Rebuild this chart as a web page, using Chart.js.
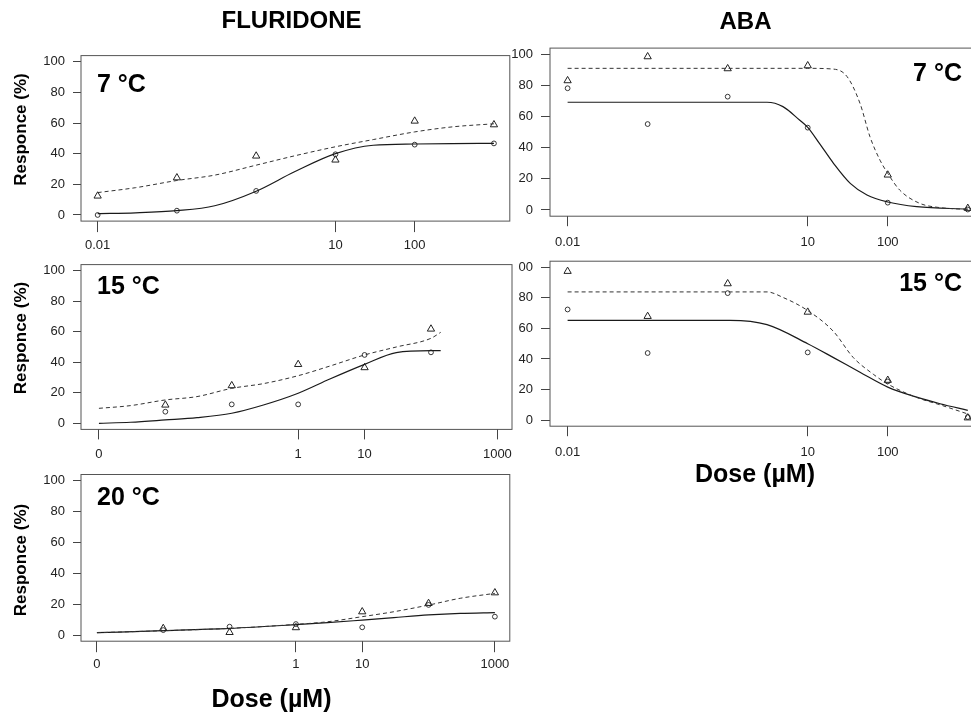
<!DOCTYPE html>
<html>
<head>
<meta charset="utf-8">
<script src="https://cdn.jsdelivr.net/npm/chart.js@4.4.0/dist/chart.umd.min.js"></script>
<style>
    body { margin: 0; background: #fff; }
    #page { position: relative; width: 971px; height: 713px; overflow: hidden; background: #fff; }
    #page canvas { position: absolute; }
</style>
</head>
<body>
<div id="page">
    <canvas id="aba7"></canvas>
    <canvas id="aba15"></canvas>
    <canvas id="flu7"></canvas>
    <canvas id="flu15"></canvas>
    <canvas id="flu20"></canvas>
</div>
<script>
// Doses (µM); "0" is drawn at 0.001 on the log axis
const DOSES = [0.01, 0.1, 1, 10, 100, 1000];
const DOSES_F15 = [0.01, 0.1, 1, 10, 100];

const Y_TICKS = [0, 20, 40, 60, 80, 100];
const X_TICKS_A = [0.01, 10, 100];
const X_LABELS_A = ['0.01', '10', '100'];
const X_TICKS_B = [0.001, 1, 10, 1000];
const X_LABELS_B = ['0', '1', '10', '1000'];

// Fluridone 7 °C
const F7_TRI = [12.4, 24.3, 38.5, 35.9, 61.3, 58.9];
const F7_CIRC = [0, 2.8, 15.7, 39.6, 45.9, 46.7];
const F7_FIT_X = [0.01, 0.03, 0.1, 0.3, 1, 3, 10, 30, 100, 300, 1000];
const F7_FIT_TRI = [14.6, 17.8, 22.5, 26, 32.5, 38.5, 44.5, 49.2, 54.2, 57.5, 59.5];
const F7_FIT_CIRC = [0.9, 1.4, 2.8, 6, 15.5, 28, 40, 45.5, 46.3, 46.6, 46.7];

// Fluridone 15 °C
const F15_TRI = [12, 24.7, 38.6, 36.5, 61.8];
const F15_CIRC = [7.6, 12.4, 12.4, 44.8, 46.5];
const F15_FIT_X = [0.001, 0.003, 0.01, 0.03, 0.1, 0.3, 1, 3, 10, 30, 100, 140];
const F15_FIT_TRI = [9.8, 11.6, 15.3, 17.5, 22.9, 26, 31.2, 37.5, 44.8, 50, 55.7, 59.6];
const F15_FIT_CIRC = [0, 0.7, 2.2, 3.7, 6.6, 12, 19.7, 29, 38.6, 46.3, 47.6, 47.6];

// Fluridone 20 °C
const F20_TRI = [4.3, 1.7, 4.8, 15.1, 20.5, 27.4];
const F20_CIRC = [3.2, 5.4, 7.1, 5, 19.5, 11.9];
const F20_FIT_X = [0.001, 0.01, 0.1, 1, 3, 10, 30, 100, 300, 1000];
const F20_FIT_TRI = [1.5, 2.8, 4.3, 6.9, 8.6, 11.9, 15.1, 19.4, 23.8, 27];
const F20_FIT_CIRC = [1.5, 2.8, 4.3, 6.7, 8, 9.7, 11.3, 13, 14, 14.5];

// ABA 7 °C
const A7_TRI = [83.1, 98.5, 90.8, 92.7, 22.5, 1.1];
const A7_CIRC = [78.2, 55.2, 72.8, 52.9, 4.7, 0.3];
const A7_FIT_TRI_X = [0.01, 1, 10, 21, 31, 45, 60, 80, 100, 141, 250, 450, 1000];
const A7_FIT_TRI = [91, 91, 91, 90.5, 85.7, 68.5, 47, 32, 23.5, 12.8, 4.3, 1.5, 0.4];
const A7_FIT_CIRC_X = [0.01, 1, 3.1, 4.9, 7.9, 10, 14, 21, 34, 55, 100, 230, 1000];
const A7_FIT_CIRC = [69.2, 69.2, 69.2, 66.4, 57.8, 53.1, 42.8, 30, 17.1, 9.6, 5.1, 2.1, 0.6];

// ABA 15 °C
const A15_TRI = [97.4, 67.9, 89.3, 70.7, 26.1, 1.5];
const A15_CIRC = [72.4, 43.9, 83.1, 44.3, 25.3, 2];
const A15_FIT_TRI_X = [0.01, 3.1, 4.9, 10, 21, 37, 66, 100, 230, 450, 1000];
const A15_FIT_TRI = [83.9, 83.9, 80.3, 71.7, 58, 41, 30, 23.6, 14.8, 10, 4];
const A15_FIT_CIRC_X = [0.01, 1.07, 3.1, 10, 21, 45, 100, 230, 450, 1000];
const A15_FIT_CIRC = [65.3, 65.3, 62.5, 50, 40.9, 31.3, 21.6, 15, 10.7, 6.4];

const FONT = '"Liberation Sans", Arial, sans-serif';

function zip(xs, ys) {
    return xs.map((x, i) => ({x: x, y: ys[i]}));
}

// optional white background, plot box and free text
const panelPlugin = {
    id: 'panel',
    beforeDraw(chart, args, opts) {
        if (!opts.bg) return;
        const ctx = chart.ctx;
        ctx.save();
        ctx.fillStyle = '#fff';
        ctx.fillRect(0, 0, chart.width, chart.height);
        ctx.restore();
    },
    afterDraw(chart, args, opts) {
        const ctx = chart.ctx;
        const a = chart.chartArea;
        ctx.save();
        ctx.strokeStyle = '#555';
        ctx.lineWidth = 1;
        ctx.strokeRect(a.left, a.top, a.right - a.left, a.bottom - a.top);
        (opts.texts || []).forEach(t => {
            ctx.save();
            ctx.fillStyle = '#000';
            ctx.font = t.font;
            ctx.textAlign = t.align || 'left';
            ctx.textBaseline = t.baseline || 'alphabetic';
            ctx.translate(t.x - opts.ox, t.y - opts.oy);
            if (t.rotate) ctx.rotate(t.rotate);
            ctx.fillText(t.text, 0, 0);
            ctx.restore();
        });
        ctx.restore();
    }
};

function makePanel(id, cfg) {
    const canvas = document.getElementById(id);
    const pos = cfg.canvas;
    const box = cfg.box;
    canvas.width = pos.w;
    canvas.height = pos.h;
    canvas.style.left = pos.x + 'px';
    canvas.style.top = pos.y + 'px';

    const yWidth = box.l - pos.x;
    const xHeight = pos.y + pos.h - box.b;

    const texts = cfg.texts.slice();
    if (cfg.label) texts.push(cfg.label);
    if (cfg.yTitle) {
        texts.push({text: 'Responce (%)', x: 21, y: cfg.yTitle, font: 'bold 17px ' + FONT,
            align: 'center', baseline: 'middle', rotate: -Math.PI / 2});
    }

    new Chart(canvas, {
        type: 'scatter',
        data: {
            datasets: [
                {
                    data: zip(cfg.fitTriX, cfg.fitTri),
                    showLine: true,
                    borderColor: '#333',
                    borderWidth: 1,
                    borderDash: [4, 3],
                    pointRadius: 0,
                    cubicInterpolationMode: 'monotone'
                },
                {
                    data: zip(cfg.fitCircX, cfg.fitCirc),
                    showLine: true,
                    borderColor: '#1a1a1a',
                    borderWidth: 1.2,
                    pointRadius: 0,
                    cubicInterpolationMode: 'monotone'
                },
                {
                    data: zip(cfg.doses, cfg.tri),
                    pointStyle: 'triangle',
                    pointRadius: 4.2,
                    borderColor: '#222',
                    borderWidth: 1,
                    backgroundColor: 'transparent'
                },
                {
                    data: zip(cfg.doses, cfg.circ),
                    pointStyle: 'circle',
                    pointRadius: 2.4,
                    borderColor: '#222',
                    borderWidth: 0.9,
                    backgroundColor: 'transparent'
                }
            ]
        },
        options: {
            responsive: false,
            animation: false,
            devicePixelRatio: 1,
            layout: {
                padding: {left: 0, top: box.t - pos.y, right: pos.x + pos.w - box.r, bottom: 0}
            },
            scales: {
                x: {
                    type: 'logarithmic',
                    min: Math.pow(10, cfg.xExp[0]),
                    max: Math.pow(10, cfg.xExp[1]),
                    border: {display: false},
                    grid: {drawOnChartArea: false, tickLength: cfg.xTickLen, tickColor: '#444'},
                    ticks: {
                        autoSkip: false,
                        maxRotation: 0,
                        padding: cfg.xPad,
                        color: '#222',
                        font: {family: FONT, size: 13},
                        callback: (v) => {
                            const i = cfg.xTicks.indexOf(v);
                            return i >= 0 ? cfg.xLabels[i] : '';
                        }
                    },
                    afterBuildTicks: (s) => { s.ticks = cfg.xTicks.map(v => ({value: v})); },
                    afterFit: (s) => {
                        s.height = xHeight;
                        s.paddingLeft = s.paddingRight = s.paddingTop = s.paddingBottom = 0;
                    }
                },
                y: {
                    min: -4,
                    max: 104,
                    border: {display: false},
                    grid: {drawOnChartArea: false, tickLength: cfg.yTickLen, tickColor: '#444'},
                    ticks: {
                        padding: cfg.yPad,
                        color: '#222',
                        font: {family: FONT, size: 13}
                    },
                    afterBuildTicks: (s) => { s.ticks = Y_TICKS.map(v => ({value: v})); },
                    afterFit: (s) => {
                        s.width = yWidth;
                        s.paddingLeft = s.paddingRight = s.paddingTop = s.paddingBottom = 0;
                    }
                }
            },
            plugins: {
                legend: {display: false},
                tooltip: {enabled: false},
                panel: {texts: texts, ox: pos.x, oy: pos.y, bg: !!cfg.bg}
            }
        },
        plugins: [panelPlugin]
    });
}

const LABEL_FONT = 'bold 25px ' + FONT;

makePanel('aba7', {
    canvas: {x: 505, y: 0, w: 484, h: 256},
    box: {l: 550, t: 48.1, r: 984, b: 216.2},
    xExp: [-2.22, 3.2], xTicks: X_TICKS_A, xLabels: X_LABELS_A,
    xTickLen: 10, xPad: 8, yTickLen: 9, yPad: 8,
    doses: DOSES, tri: A7_TRI, circ: A7_CIRC,
    fitTriX: A7_FIT_TRI_X, fitTri: A7_FIT_TRI, fitCircX: A7_FIT_CIRC_X, fitCirc: A7_FIT_CIRC,
    label: {text: '7 °C', x: 962, y: 80.7, font: LABEL_FONT, align: 'right'},
    texts: [{text: 'ABA', x: 745.5, y: 29, font: 'bold 24px ' + FONT, align: 'center'}]
});

makePanel('aba15', {
    canvas: {x: 505, y: 256, w: 484, h: 240},
    box: {l: 550, t: 258.1, r: 984, b: 426.2},
    xExp: [-2.22, 3.2], xTicks: X_TICKS_A, xLabels: X_LABELS_A,
    xTickLen: 10, xPad: 8, yTickLen: 9, yPad: 8,
    doses: DOSES, tri: A15_TRI, circ: A15_CIRC,
    fitTriX: A15_FIT_TRI_X, fitTri: A15_FIT_TRI, fitCircX: A15_FIT_CIRC_X, fitCirc: A15_FIT_CIRC,
    label: {text: '15 °C', x: 962, y: 290.7, font: LABEL_FONT, align: 'right'},
    texts: [{text: 'Dose (µM)', x: 755, y: 482, font: 'bold 25px ' + FONT, align: 'center'}]
});

makePanel('flu7', {
    canvas: {x: 0, y: 0, w: 515, h: 256},
    box: {l: 81, t: 55.6, r: 510, b: 221.1},
    xExp: [-2.21, 3.2], xTicks: X_TICKS_A, xLabels: X_LABELS_A,
    xTickLen: 11, xPad: 6, yTickLen: 8, yPad: 8,
    doses: DOSES, tri: F7_TRI, circ: F7_CIRC,
    fitTriX: F7_FIT_X, fitTri: F7_FIT_TRI, fitCircX: F7_FIT_X, fitCirc: F7_FIT_CIRC,
    yTitle: 129.5,
    label: {text: '7 °C', x: 97, y: 91.7, font: LABEL_FONT},
    texts: [{text: 'FLURIDONE', x: 291.5, y: 28, font: 'bold 24px ' + FONT, align: 'center'}]
});

// white background hides the "1" of the ABA 15 °C "100" label, as in the figure
makePanel('flu15', {
    bg: true,
    canvas: {x: 0, y: 256, w: 518, h: 210},
    box: {l: 81, t: 264.6, r: 512, b: 429.4},
    xExp: [-3.27, 3.22], xTicks: X_TICKS_B, xLabels: X_LABELS_B,
    xTickLen: 10, xPad: 7, yTickLen: 8, yPad: 8,
    doses: DOSES_F15, tri: F15_TRI, circ: F15_CIRC,
    fitTriX: F15_FIT_X, fitTri: F15_FIT_TRI, fitCircX: F15_FIT_X, fitCirc: F15_FIT_CIRC,
    yTitle: 338,
    label: {text: '15 °C', x: 97, y: 294.3, font: LABEL_FONT},
    texts: []
});

makePanel('flu20', {
    canvas: {x: 0, y: 466, w: 515, h: 247},
    box: {l: 81, t: 474.5, r: 510, b: 641.2},
    xExp: [-3.24, 3.225], xTicks: X_TICKS_B, xLabels: X_LABELS_B,
    xTickLen: 11, xPad: 4, yTickLen: 8, yPad: 8,
    doses: DOSES, tri: F20_TRI, circ: F20_CIRC,
    fitTriX: F20_FIT_X, fitTri: F20_FIT_TRI, fitCircX: F20_FIT_X, fitCirc: F20_FIT_CIRC,
    yTitle: 560,
    label: {text: '20 °C', x: 97, y: 505, font: LABEL_FONT},
    texts: [{text: 'Dose (µM)', x: 271.5, y: 707, font: 'bold 25px ' + FONT, align: 'center'}]
});
</script>
</body>
</html>
